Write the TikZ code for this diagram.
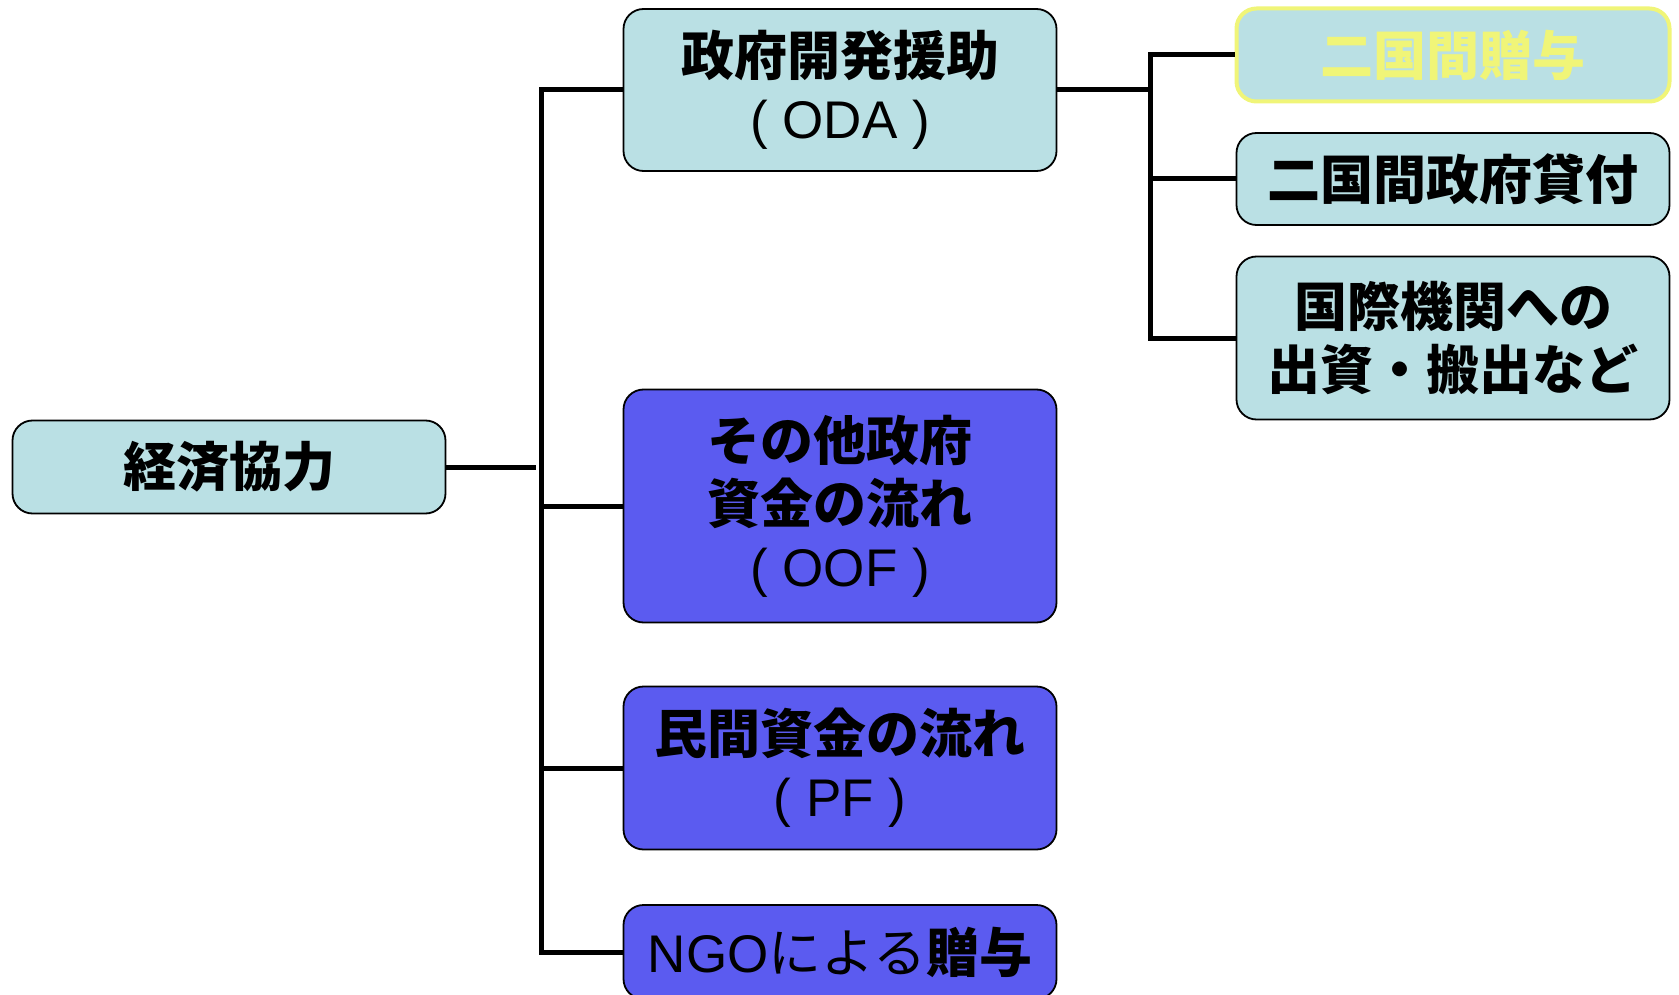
\documentclass[tikz,border=0pt]{standalone}
\usepackage{fontspec}
\setmainfont{Noto Sans CJK JP}
\newfontfamily\latina{Liberation Sans}
\definecolor{celeste}{RGB}{186,224,228}
\definecolor{azul}{RGB}{91,91,240}
\definecolor{amarillo}{RGB}{240,245,120}
\begin{document}
\begin{tikzpicture}[x=1pt, y=-1pt,
    caja/.style={draw=black, line width=1.8pt, rounded corners=20pt, minimum width=433pt,
        align=center, inner sep=0pt, font=\fontsize{53}{63}\selectfont\bfseries},
    claro/.style={caja, fill=celeste},
    oscuro/.style={caja, fill=azul},
    linea/.style={line width=5pt, line join=miter}]
    \useasboundingbox (0,0) rectangle (1679,995);

    % Nodos
    \node[claro, minimum height=162pt] (oda) at (840,90) {政府開発援助\\{\latina\mdseries ( ODA )}};
    \node[claro, minimum height=93pt] (econ) at (229,467) {経済協力};
    \node[oscuro, minimum height=233pt] (oof) at (840,506) {その他政府\\資金の流れ\\{\latina\mdseries ( OOF )}};
    \node[oscuro, minimum height=163pt] (pf) at (840,768) {民間資金の流れ\\{\latina\mdseries ( PF )}};
    \node[oscuro, minimum height=94pt] (ngo) at (840,952) {{\latina\mdseries NGO}{\mdseries による}贈与};

    \node[claro, draw=amarillo, line width=4pt, text=amarillo, minimum height=93pt] (grant) at (1453,55) {二国間贈与};
    \node[claro, minimum height=92pt] (loan) at (1453,179) {二国間政府貸付};
    \node[claro, minimum height=163pt] (intl) at (1453,338) {国際機関への\\出資・搬出など};

    % Conectores
    \coordinate (t1) at (541,89);
    \coordinate (t2) at (1150,90);
    \draw[linea] (econ.east) -- ([xshift=-5pt]econ.east -| t1);
    \draw[linea] (oda.west) -- (oda.west -| t1) |- (ngo.west);
    \draw[linea] (oof.west) -- (oof.west -| t1);
    \draw[linea] (pf.west) -- (pf.west -| t1);

    \draw[linea] (oda.east) -- (oda.east -| t2);
    \draw[linea] (grant.west) -- (grant.west -| t2) |- (intl.west);
    \draw[linea] (loan.west) -- (loan.west -| t2);
\end{tikzpicture}
\end{document}
